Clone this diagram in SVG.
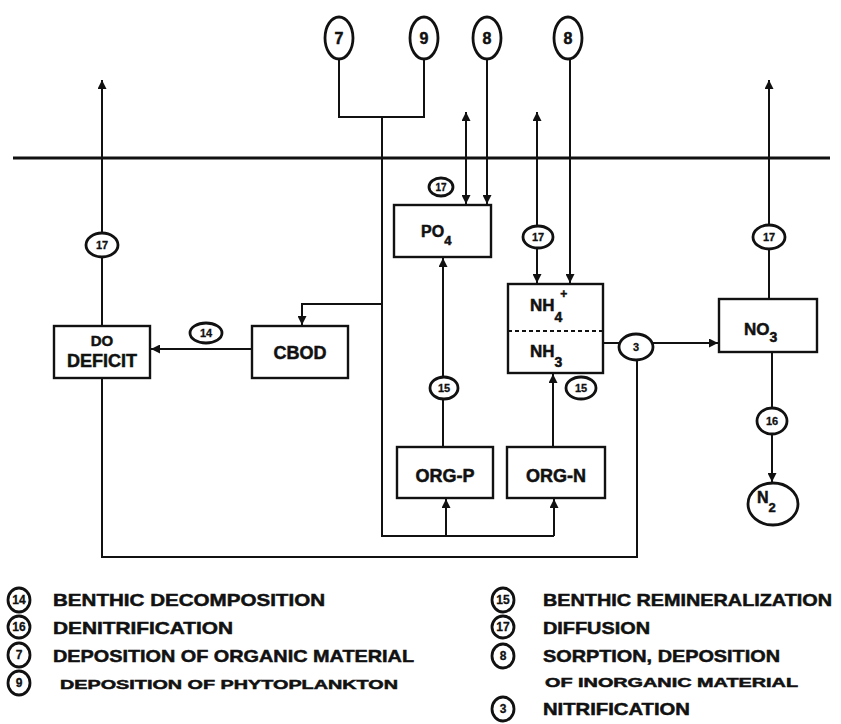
<svg xmlns="http://www.w3.org/2000/svg" width="841" height="724" viewBox="0 0 841 724">
<style>
.ln{fill:none;stroke:#111;stroke-width:2}
.bx{fill:#fff;stroke:#111;stroke-width:2.4}
.cr{fill:#fff;stroke:#111;stroke-width:2.8}
.t{font-family:"Liberation Sans",Arial,sans-serif;font-weight:bold;fill:#111;stroke:#111;stroke-width:0.5}
.bt{font-size:18px;text-anchor:middle}
.ct{font-size:11px;text-anchor:middle;stroke-width:0.3}
.lt{font-size:17px}
.ls{font-size:13px}
.lc{font-size:12px;text-anchor:middle;stroke-width:0.3}
</style>
<defs>
<marker id="a" viewBox="0 0 10 10" refX="10" refY="5" markerWidth="10" markerHeight="9" markerUnits="userSpaceOnUse" orient="auto-start-reverse">
<path d="M0,0 L10,5 L0,10 Z" fill="#111"/>
</marker>
</defs>
<rect width="841" height="724" fill="#fff"/>
<g id="connectors">
<path class="ln" d="M13,158 H830" style="stroke-width:3"/>
<path class="ln" d="M102,326 V80" marker-end="url(#a)"/>
<path class="ln" d="M252,349 H151" marker-end="url(#a)"/>
<path class="ln" d="M339,59 V117 H424 V59"/>
<path class="ln" d="M382,117 V536 H554"/>
<path class="ln" d="M446,536 V499" marker-end="url(#a)"/>
<path class="ln" d="M554,536 V499" marker-end="url(#a)"/>
<path class="ln" d="M382,304 H302 V325" marker-end="url(#a)"/>
<path class="ln" d="M443,447 V258" marker-end="url(#a)"/>
<path class="ln" d="M553,447 V374" marker-end="url(#a)"/>
<path class="ln" d="M466,112 V204" marker-start="url(#a)" marker-end="url(#a)"/>
<path class="ln" d="M487,59 V204" marker-end="url(#a)"/>
<path class="ln" d="M537,112 V283" marker-start="url(#a)" marker-end="url(#a)"/>
<path class="ln" d="M570,59 V283" marker-end="url(#a)"/>
<path class="ln" d="M603,343 H619"/>
<path class="ln" d="M653,343 H718" marker-end="url(#a)"/>
<path class="ln" d="M637,360 V557 H102 V378"/>
<path class="ln" d="M769,299 V80" marker-end="url(#a)"/>
<path class="ln" d="M772,352 V482" marker-end="url(#a)"/>
</g>
<g id="c7"><ellipse class="cr" cx="339" cy="38" rx="14" ry="21"/><text class="t" x="339" y="44" font-size="16" text-anchor="middle">7</text></g>
<g id="c9"><ellipse class="cr" cx="424" cy="38" rx="14" ry="21"/><text class="t" x="424" y="44" font-size="16" text-anchor="middle">9</text></g>
<g id="c8a"><ellipse class="cr" cx="487" cy="38" rx="14" ry="21"/><text class="t" x="487" y="44" font-size="16" text-anchor="middle">8</text></g>
<g id="c8b"><ellipse class="cr" cx="568" cy="38" rx="14" ry="21"/><text class="t" x="568" y="44" font-size="16" text-anchor="middle">8</text></g>
<g id="do"><rect class="bx" x="54" y="326" width="96" height="52"/><text class="t bt" x="102" y="346" style="font-size:15px">DO</text><text class="t bt" x="102" y="367">DEFICIT</text></g>
<g id="cbod"><rect class="bx" x="252" y="326" width="96" height="52"/><text class="t bt" x="300" y="359">CBOD</text></g>
<g id="po4"><rect class="bx" x="394" y="205" width="97" height="52"/><text class="t" x="421" y="237" font-size="16">PO<tspan font-size="13" dy="8">4</tspan></text></g>
<g id="nh"><rect class="bx" x="508" y="284" width="95" height="89"/><path d="M508,331 H603" fill="none" stroke="#111" stroke-width="2" stroke-dasharray="4,3"/><text class="t" x="530" y="311" font-size="17">NH<tspan font-size="14" dy="11">4</tspan><tspan font-size="12" dx="-2" dy="-24">+</tspan></text><text class="t" x="530" y="357" font-size="17">NH<tspan font-size="14" dy="10">3</tspan></text></g>
<g id="no3"><rect class="bx" x="719" y="299" width="98" height="53"/><text class="t" x="744" y="335" font-size="17">NO<tspan font-size="14" dy="7">3</tspan></text></g>
<g id="orgp"><rect class="bx" x="397" y="447" width="96" height="51"/><text class="t bt" x="445" y="482">ORG-P</text></g>
<g id="orgn"><rect class="bx" x="507" y="447" width="98" height="51"/><text class="t bt" x="556" y="482">ORG-N</text></g>
<g id="n2"><ellipse class="cr" cx="773" cy="504" rx="25" ry="21"/><text class="t" x="757" y="503" font-size="16">N<tspan font-size="13" dy="9">2</tspan></text></g>
<g id="l17a"><ellipse class="cr" cx="102" cy="245" rx="16" ry="12"/><text class="t ct" x="102" y="249">17</text></g>
<g id="l14"><ellipse class="cr" cx="206" cy="333" rx="16" ry="10"/><text class="t ct" x="206" y="337">14</text></g>
<g id="l17b"><ellipse class="cr" cx="441" cy="187" rx="12" ry="9"/><text class="t ct" x="441" y="191" style="font-size:10px">17</text></g>
<g id="l17c"><ellipse class="cr" cx="538" cy="237" rx="15" ry="11"/><text class="t ct" x="538" y="241">17</text></g>
<g id="l17d"><ellipse class="cr" cx="769" cy="237" rx="16" ry="12"/><text class="t ct" x="769" y="241">17</text></g>
<g id="l3"><ellipse class="cr" cx="636" cy="347" rx="17" ry="13"/><text class="t ct" x="636" y="351">3</text></g>
<g id="l15a"><ellipse class="cr" cx="444" cy="388" rx="14" ry="11"/><text class="t ct" x="444" y="392">15</text></g>
<g id="l15b"><ellipse class="cr" cx="581" cy="388" rx="15" ry="11"/><text class="t ct" x="581" y="392">15</text></g>
<g id="l16"><ellipse class="cr" cx="772" cy="421" rx="15" ry="13"/><text class="t ct" x="772" y="425">16</text></g>
<g id="legend">
<ellipse class="cr" cx="19" cy="600" rx="11" ry="12"/><text class="t lc" x="19" y="604">14</text>
<text class="t lt" x="53" y="606" textLength="272" lengthAdjust="spacingAndGlyphs">BENTHIC DECOMPOSITION</text>
<ellipse class="cr" cx="19" cy="627" rx="11" ry="11"/><text class="t lc" x="19" y="631">16</text>
<text class="t lt" x="53" y="634" textLength="180" lengthAdjust="spacingAndGlyphs">DENITRIFICATION</text>
<ellipse class="cr" cx="19" cy="655" rx="11" ry="12"/><text class="t lc" x="19" y="659">7</text>
<text class="t lt" x="53" y="662" textLength="361" lengthAdjust="spacingAndGlyphs">DEPOSITION OF ORGANIC MATERIAL</text>
<ellipse class="cr" cx="19" cy="683" rx="11" ry="12"/><text class="t lc" x="19" y="687">9</text>
<text class="t ls" x="60" y="689" textLength="338" lengthAdjust="spacingAndGlyphs">DEPOSITION OF PHYTOPLANKTON</text>
<ellipse class="cr" cx="503" cy="600" rx="11" ry="12"/><text class="t lc" x="503" y="604">15</text>
<text class="t lt" x="543" y="606" textLength="289" lengthAdjust="spacingAndGlyphs">BENTHIC REMINERALIZATION</text>
<ellipse class="cr" cx="503" cy="627" rx="11" ry="11"/><text class="t lc" x="503" y="631">17</text>
<text class="t lt" x="543" y="634" textLength="107" lengthAdjust="spacingAndGlyphs">DIFFUSION</text>
<ellipse class="cr" cx="503" cy="656" rx="11" ry="12"/><text class="t lc" x="503" y="660">8</text>
<text class="t lt" x="543" y="662" textLength="237" lengthAdjust="spacingAndGlyphs">SORPTION, DEPOSITION</text>
<text class="t ls" x="545" y="687" textLength="253" lengthAdjust="spacingAndGlyphs">OF INORGANIC MATERIAL</text>
<ellipse class="cr" cx="503" cy="709" rx="11" ry="12"/><text class="t lc" x="503" y="713">3</text>
<text class="t lt" x="543" y="715" textLength="147" lengthAdjust="spacingAndGlyphs">NITRIFICATION</text>
</g>
</svg>
